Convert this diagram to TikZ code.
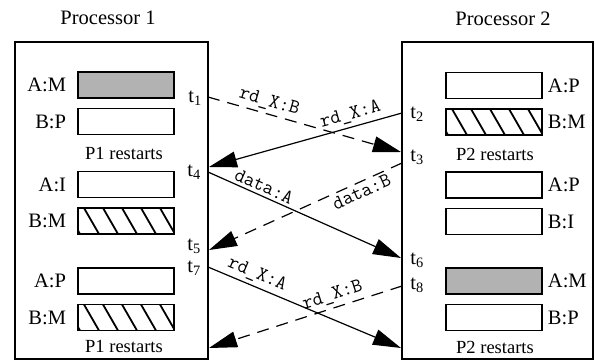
\documentclass[tikz,border=0pt]{standalone}
\usepackage{fontspec}
\setmainfont{Liberation Serif}
\usetikzlibrary{positioning}
\usetikzlibrary{arrows.meta}
\tikzstyle{procbox} = [draw, line width=1.8pt, inner sep=0pt]
\tikzstyle{cell} = [draw, line width=1.5pt, minimum width=96pt, minimum height=26pt, inner sep=0pt]
\tikzstyle{modcell} = [cell, fill=gray!60]
\tikzstyle{sharedcell} = [cell, path picture={
    \foreach \k in {-1,...,4}
      \draw[line width=1.8pt] ([xshift=\k*19pt+6pt]path picture bounding box.north west) -- ++(15pt,-26pt);}]
\tikzstyle{lab} = [inner sep=1pt, font=\fontsize{20.5}{24}\selectfont]
\tikzstyle{restart} = [inner sep=1pt, font=\fontsize{18.5}{22}\selectfont]
\tikzstyle{msg} = [line width=1.2pt, -{Triangle[length=28pt, width=16pt]}]
\tikzstyle{msglab} = [inner sep=3pt, sloped, font=\ttfamily\fontsize{20}{22}\selectfont]
\tikzstyle{lost} = [dash pattern=on 12pt off 8pt]

\begin{document}
\begin{tikzpicture}[x=1pt, y=-1pt]
  \useasboundingbox (0,0) rectangle (595,362);
  \node[procbox, minimum width=193pt, minimum height=317pt] (P1) at (111.5,200.5) {};
  \node[procbox, minimum width=191pt, minimum height=317pt] (P2) at (497.5,200.5) {};
  \node[lab] (P1name) at (108,18) {Processor 1};
  \node[lab] (P2name) at (503,19) {Processor 2};

  % processor 1
  \node[modcell] (a1) at (126,85) {};
  \node[cell, below=9pt of a1] (b1) {};
  \node[restart] (r1) at (124,153) {P1 restarts};
  \node[cell] (a2) at (126,184.5) {};
  \node[sharedcell, below=9pt of a2] (b2) {};
  \node[cell] (a3) at (126,281) {};
  \node[sharedcell, below=9pt of a3] (b3) {};
  \node[restart] (r2) at (124,346) {P1 restarts};
  \node[lab, left=10pt of a1] (la1) {A:M};
  \node[lab, left=10pt of b1] (lb1) {B:P};
  \node[lab, left=10pt of a2] (la2) {A:I};
  \node[lab, left=10pt of b2] (lb2) {B:M};
  \node[lab, left=10pt of a3] (la3) {A:P};
  \node[lab, left=10pt of b3] (lb3) {B:M};

  % processor 2
  \node[cell] (a4) at (494,85.5) {};
  \node[sharedcell, below=9pt of a4] (b4) {};
  \node[restart] (r3) at (495,154) {P2 restarts};
  \node[cell] (a5) at (494,185) {};
  \node[cell, below=9pt of a5] (b5) {};
  \node[modcell] (a6) at (494,281) {};
  \node[cell, below=9pt of a6] (b6) {};
  \node[restart] (r4) at (495,347) {P2 restarts};
  \node[lab, right=4pt of a4] (la4) {A:P};
  \node[lab, right=4pt of b4] (lb4) {B:M};
  \node[lab, right=4pt of a5] (la5) {A:P};
  \node[lab, right=4pt of b5] (lb5) {B:I};
  \node[lab, right=4pt of a6] (la6) {A:M};
  \node[lab, right=4pt of b6] (lb6) {B:P};

  % times
  \node[lab] (t1) at (195,98) {t\textsubscript{1}};
  \node[lab] (t4) at (194,172) {t\textsubscript{4}};
  \node[lab] (t5) at (194,246) {t\textsubscript{5}};
  \node[lab] (t7) at (194,268) {t\textsubscript{7}};
  \node[lab] (t2) at (417,114) {t\textsubscript{2}};
  \node[lab] (t3) at (417,157) {t\textsubscript{3}};
  \node[lab] (t6) at (417,260) {t\textsubscript{6}};
  \node[lab] (t8) at (417,285) {t\textsubscript{8}};

  \coordinate (s1) at (208,97);
  \coordinate (e1) at (401,152);
  \coordinate (s2) at (402,113);
  \coordinate (e2) at (209,167);
  \coordinate (s3) at (208,172);
  \coordinate (e3) at (401,258);
  \coordinate (s4) at (402,163);
  \coordinate (e4) at (209,250);
  \coordinate (s5) at (208,267);
  \coordinate (e5) at (401,348);
  \coordinate (s6) at (402,286);
  \coordinate (e6) at (209,348);

  \draw[msg, lost] (s1) -- node[msglab, pos=0.3, above] {rd\_X:B} (e1);
  \draw[msg] (s2) -- node[msglab, pos=0.25, above] {rd\_X:A} (e2);
  \draw[msg] (s3) -- node[msglab, pos=0.27, above] {data:A} (e3);
  \draw[msg, lost] (s4) -- node[msglab, pos=0.23, below] {data:B} (e4);
  \draw[msg] (s5) -- node[msglab, pos=0.23, above] {rd\_X:A} (e5);
  \draw[msg, lost] (s6) -- node[msglab, pos=0.34, above] {rd\_X:B} (e6);
\end{tikzpicture}
\end{document}
